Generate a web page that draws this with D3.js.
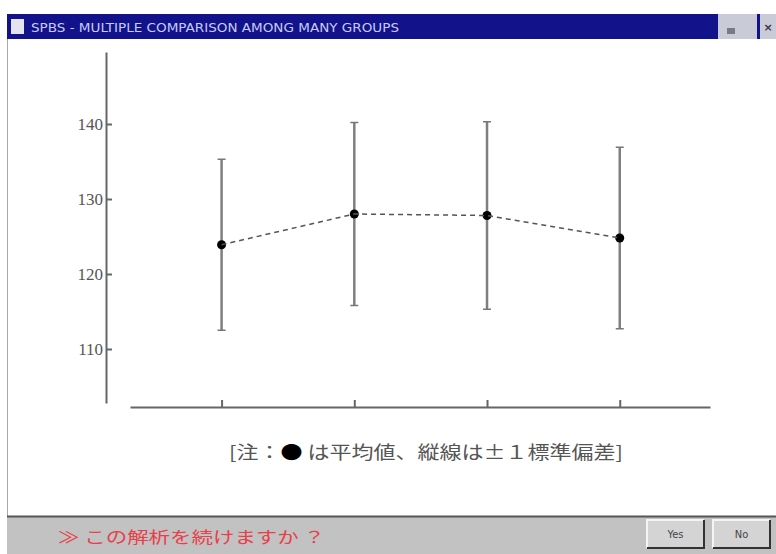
<!DOCTYPE html>
<html>
<head>
<meta charset="utf-8">
<script src="https://cdn.jsdelivr.net/npm/d3@7"></script>
<style>
  body { margin: 0; background: #fff; }
  svg { display: block; }
</style>
</head>
<body>
<div id="chart"></div>
<script>

// DATA
////////////////////////////
var groups = [1, 2, 3, 4];
var means = [123.9, 128.0, 127.8, 124.8];   // ● = mean
var sds = [11.4, 12.2, 12.5, 12.1];         // whisker = +/- 1 SD
var yTicks = [110, 120, 130, 140];

var titleText = "SPBS - MULTIPLE COMPARISON AMONG MANY GROUPS";
var noteParts = ["[注：", "●", " は平均値、縦線は±１標準偏差]"];
var promptText = "≫ この解析を続けますか ？";
var buttons = ["Yes", "No"];

// SETUP
////////////////////////////
var width = 776,
    height = 554;

var svg = d3.select("#chart").append("svg")
    .attr("width", width)
    .attr("height", height);

// window frame
svg.append("rect")
    .attr("x", 7).attr("y", 14)
    .attr("width", width - 7).attr("height", height - 14)
    .attr("fill", "#fff");
svg.append("line")
    .attr("x1", 7.5).attr("x2", 7.5)
    .attr("y1", 14).attr("y2", height)
    .attr("stroke", "#aaa");

// title bar
svg.append("rect")
    .attr("x", 7).attr("y", 14)
    .attr("width", 711).attr("height", 25)
    .attr("fill", "#12128a");
svg.append("rect")   // little window icon
    .attr("x", 11).attr("y", 19)
    .attr("width", 13).attr("height", 15)
    .attr("fill", "#e4e4ee");
svg.append("text")
    .attr("x", 31).attr("y", 32)
    .attr("textLength", 368)
    .attr("lengthAdjust", "spacingAndGlyphs")
    .style("font-family", "'DejaVu Sans Condensed', 'Liberation Sans Narrow', sans-serif")
    .style("font-size", "12px")
    .style("fill", "#c8ccf4")
    .text(titleText);

// title bar buttons (min / max / close)
svg.append("rect")
    .attr("x", 718).attr("y", 14).attr("width", 39).attr("height", 25)
    .attr("fill", "#c9cbd6");
svg.append("rect")
    .attr("x", 727).attr("y", 28).attr("width", 8).attr("height", 6)
    .attr("fill", "#7a7a86");
svg.append("rect")
    .attr("x", 757).attr("y", 14).attr("width", 3).attr("height", 25)
    .attr("fill", "#12128a");
svg.append("rect")
    .attr("x", 760).attr("y", 14).attr("width", 16).attr("height", 25)
    .attr("fill", "#c9cbd6");
svg.append("text")
    .attr("x", 768).attr("y", 31)
    .attr("text-anchor", "middle")
    .style("font-family", "'DejaVu Sans', sans-serif")
    .style("font-size", "11px")
    .style("font-weight", "bold")
    .style("fill", "#334")
    .text("×");

// SCALES + AXES
////////////////////////////
var x = d3.scaleLinear()
    .domain([0.31, 4.68])
    .range([130, 710]);

var y = d3.scaleLinear()
    .domain([102.8, 149.6])
    .range([403, 52]);

var xAxis = svg.append("g")
    .attr("transform", "translate(0,407)")
    .call(d3.axisBottom(x)
        .tickValues(groups)
        .tickSize(-7)
        .tickSizeOuter(0)
        .tickFormat(""));

var yAxis = svg.append("g")
    .attr("transform", "translate(106,0)")
    .call(d3.axisLeft(y)
        .tickValues(yTicks)
        .tickSize(-6)
        .tickSizeOuter(0)
        .tickPadding(3));

svg.selectAll(".domain, .tick line")
    .attr("stroke", "#666")
    .attr("stroke-width", 2);

yAxis.selectAll(".tick text")
    .style("font-family", "'Liberation Serif', 'DejaVu Serif', serif")
    .style("font-size", "17px")
    .style("fill", "#555");

// MARKS
////////////////////////////
var data = groups.map(function(g, i) {
  return { g: g, mean: means[i], sd: sds[i] };
});

var bars = svg.append("g").selectAll("g")
    .data(data)
    .enter().append("g");

// whiskers
bars.append("line")
    .attr("x1", function(d) { return x(d.g); })
    .attr("x2", function(d) { return x(d.g); })
    .attr("y1", function(d) { return y(d.mean + d.sd); })
    .attr("y2", function(d) { return y(d.mean - d.sd); })
    .attr("stroke", "#7f7f7f")
    .attr("stroke-width", 2.5);

// caps
[1, -1].forEach(function(s) {
  bars.append("line")
      .attr("x1", function(d) { return x(d.g) - 4; })
      .attr("x2", function(d) { return x(d.g) + 4; })
      .attr("y1", function(d) { return y(d.mean + s * d.sd); })
      .attr("y2", function(d) { return y(d.mean + s * d.sd); })
      .attr("stroke", "#777")
      .attr("stroke-width", 1.5);
});

// dashed line through the means
var line = d3.line()
    .x(function(d) { return x(d.g); })
    .y(function(d) { return y(d.mean); });

svg.append("path")
    .datum(data)
    .attr("d", line)
    .attr("fill", "none")
    .attr("stroke", "#555")
    .attr("stroke-width", 1.5)
    .attr("stroke-dasharray", "5,4");

bars.append("circle")
    .attr("cx", function(d) { return x(d.g); })
    .attr("cy", function(d) { return y(d.mean); })
    .attr("r", 4.5)
    .attr("fill", "#000");

// note under the chart (● in black)
svg.append("text")
    .attr("x", 426).attr("y", 459)
    .attr("text-anchor", "middle")
    .attr("textLength", 394)
    .attr("lengthAdjust", "spacingAndGlyphs")
    .style("font-family", "'Noto Sans CJK JP', sans-serif")
    .style("font-size", "18px")
    .style("fill", "#555")
    .selectAll("tspan")
    .data(noteParts)
    .enter().append("tspan")
      .style("fill", function(d) { return d === "●" ? "#000" : null; })
      .text(function(d) { return d; });

// BOTTOM BAR
////////////////////////////
svg.append("rect")
    .attr("x", 7).attr("y", 516)
    .attr("width", width - 7).attr("height", height - 516)
    .attr("fill", "#c2c2c2");
svg.append("line")
    .attr("x1", 7).attr("x2", width)
    .attr("y1", 516.5).attr("y2", 516.5)
    .attr("stroke", "#555")
    .attr("stroke-width", 2);

svg.append("text")
    .attr("x", 58).attr("y", 543)
    .attr("textLength", 267)
    .attr("lengthAdjust", "spacingAndGlyphs")
    .style("font-family", "'Noto Sans CJK JP', sans-serif")
    .style("font-size", "16px")
    .style("fill", "#e8404a")
    .text(promptText);

var btnX = d3.scaleOrdinal()
    .domain(buttons)
    .range([647, 713]);

var btn = svg.append("g").selectAll("g")
    .data(buttons)
    .enter().append("g")
    .attr("transform", function(d) { return "translate(" + btnX(d) + ",520)"; });

btn.append("rect")
    .attr("width", 57).attr("height", 28)
    .attr("fill", "#d4d4d4");
btn.append("path")   // light top-left edge
    .attr("d", "M0,28V0H57")
    .attr("fill", "none")
    .attr("stroke", "#f4f4f4")
    .attr("stroke-width", 2);
btn.append("path")   // dark bottom-right edge
    .attr("d", "M0,28H57V0")
    .attr("fill", "none")
    .attr("stroke", "#333")
    .attr("stroke-width", 2);
btn.append("text")
    .attr("x", 28.5).attr("y", 18)
    .attr("text-anchor", "middle")
    .style("font-family", "'DejaVu Sans Condensed', sans-serif")
    .style("font-size", "11px")
    .style("fill", "#444")
    .text(function(d) { return d; });

</script>
</body>
</html>
